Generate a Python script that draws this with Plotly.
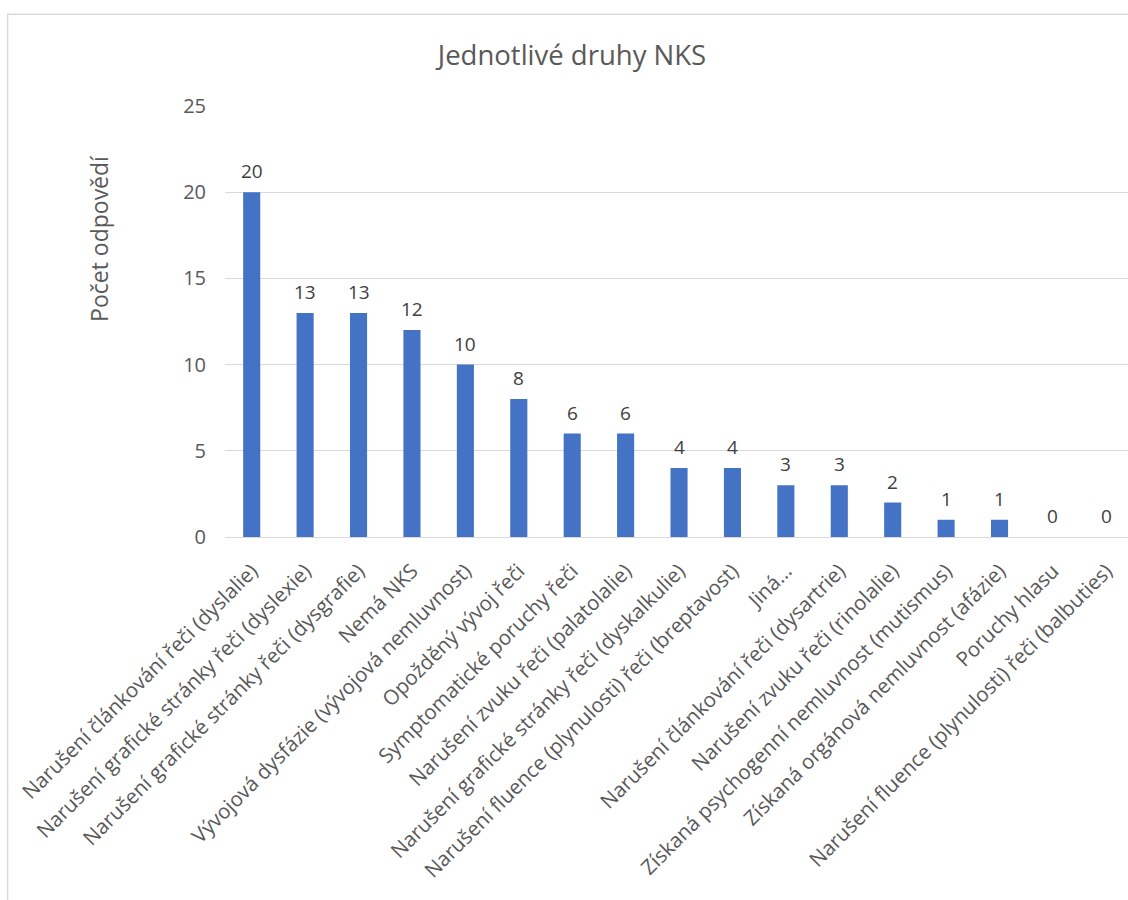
import plotly.graph_objects as go

# Categories and counts of responses
categories = [
    "Narušení článkování řeči (dyslalie)",
    "Narušení grafické stránky řeči (dyslexie)",
    "Narušení grafické stránky řeči (dysgrafie)",
    "Nemá NKS",
    "Vývojová dysfázie (vývojová nemluvnost)",
    "Opožděný vývoj řeči",
    "Symptomatické poruchy řeči",
    "Narušení zvuku řeči (palatolalie)",
    "Narušení grafické stránky řeči (dyskalkulie)",
    "Narušení fluence (plynulosti) řeči (breptavost)",
    "Jiná...",
    "Narušení článkování řeči (dysartrie)",
    "Narušení zvuku řeči (rinolalie)",
    "Získaná psychogenní nemluvnost (mutismus)",
    "Získaná orgánová nemluvnost (afázie)",
    "Poruchy hlasu",
    "Narušení fluence (plynulosti) řeči (balbuties)",
]
counts = [20, 13, 13, 12, 10, 8, 6, 6, 4, 4, 3, 3, 2, 1, 1, 0, 0]
y_ticks = [0, 5, 10, 15, 20, 25]

TEXT = "#595959"
FONT = "Open Sans"

W, H = 1128, 900
left, right, top, bottom = 225.3, 0, 105.7, 363.3
pw = W - left - right
ph = H - top - bottom

def px_x(x):
    return (x - left) / pw

def px_y(y):
    return (H - bottom - y) / ph

xs = list(range(len(categories)))

fig = go.Figure(
    go.Bar(
        x=xs,
        y=counts,
        marker=dict(color="#4472C4", line=dict(width=0)),
        width=0.32,
        hoverinfo="skip",
    )
)

value_labels = [
    dict(
        x=i,
        y=v,
        xref="x",
        yref="y",
        text=str(v),
        showarrow=False,
        xanchor="center",
        yanchor="bottom",
        yshift=6,
        font=dict(family=FONT, size=19, color="#404040"),
    )
    for i, v in zip(xs, counts)
]

fig.update_layout(
    width=W,
    height=H,
    margin=dict(l=left, r=right, t=top, b=bottom, autoexpand=False),
    paper_bgcolor="white",
    plot_bgcolor="white",
    showlegend=False,
    title=dict(
        text="Jednotlivé druhy NKS",
        x=572 / W,
        xanchor="center",
        y=1 - 55 / H,
        yanchor="middle",
        font=dict(family=FONT, size=27.5, color=TEXT),
    ),
    xaxis=dict(
        tickmode="array",
        tickvals=xs,
        ticktext=categories,
        tickangle=-45,
        range=[-0.5, 16.405],
        showgrid=False,
        zeroline=False,
        showline=False,
        ticks="",
        ticklabelstandoff=17,
        tickfont=dict(family=FONT, size=20.5, color=TEXT),
    ),
    yaxis=dict(
        range=[0, 25],
        tickmode="array",
        tickvals=y_ticks,
        showgrid=True,
        gridcolor="#d9d9d9",
        gridwidth=1.3,
        zeroline=True,
        zerolinecolor="#d9d9d9",
        zerolinewidth=1.3,
        showline=False,
        ticks="",
        ticklabelstandoff=18,
        tickfont=dict(family=FONT, size=20, color=TEXT),
    ),
    annotations=value_labels + [
        dict(
            text="Počet odpovědí",
            xref="paper",
            yref="paper",
            x=px_x(100),
            y=px_y(238),
            xanchor="center",
            yanchor="middle",
            textangle=-90,
            showarrow=False,
            font=dict(family=FONT, size=23, color=TEXT),
        )
    ],
    shapes=[
        dict(
            type="rect",
            xref="paper",
            yref="paper",
            x0=px_x(8),
            x1=px_x(1140),
            y0=px_y(910),
            y1=px_y(14),
            line=dict(color="#d9d9d9", width=1.5),
            fillcolor="rgba(0,0,0,0)",
            layer="below",
        )
    ],
)

fig.write_html("out.html")
